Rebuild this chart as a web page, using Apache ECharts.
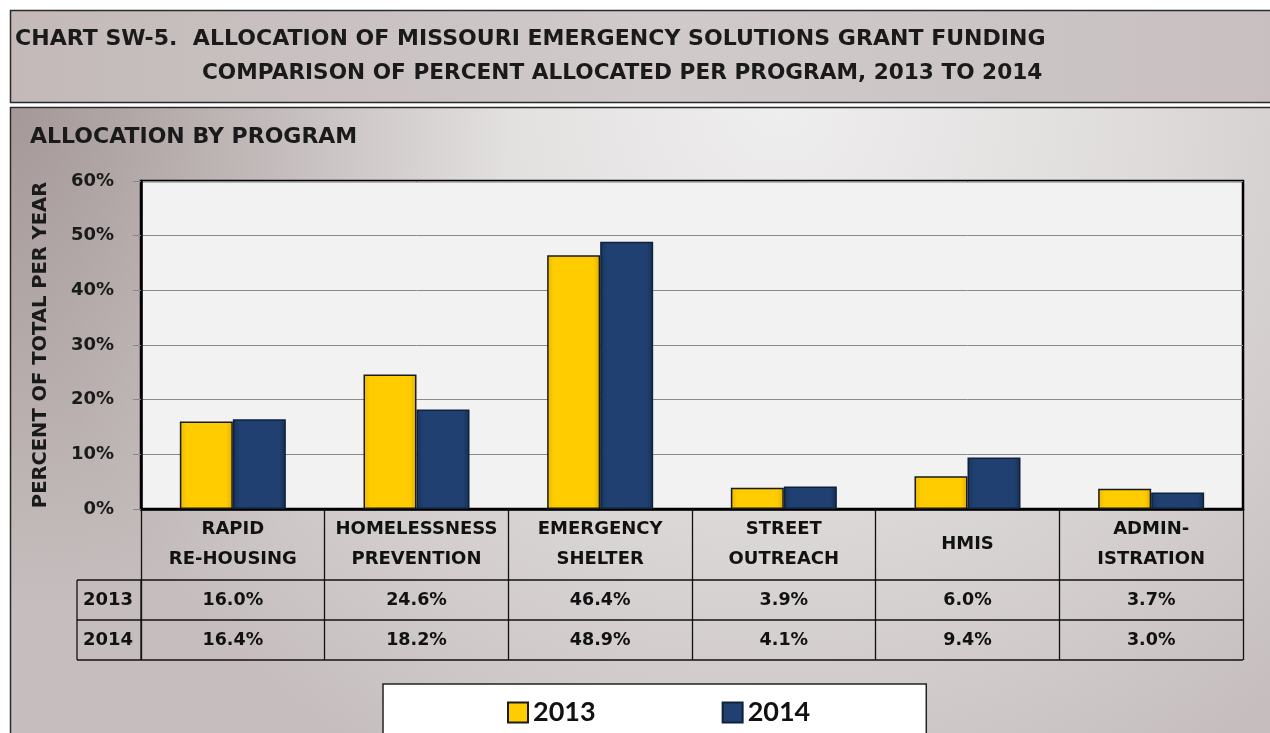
<!DOCTYPE html>
<html>
<head>
<meta charset="utf-8">
<script src="https://cdn.jsdelivr.net/npm/echarts@6/dist/echarts.min.js"></script>
<style>
  html, body { margin: 0; padding: 0; background: #ffffff; }
  #chart { width: 1270px; height: 733px; }
</style>
</head>
<body>
<div id="chart"></div>
<script>
// Program categories (header row of the data table)
const categories = ['RAPID\nRE-HOUSING', 'HOMELESSNESS\nPREVENTION', 'EMERGENCY\nSHELTER', 'STREET\nOUTREACH', 'HMIS', 'ADMIN-\nISTRATION'];
// Percent of total ESG funding allocated per program
const years = ['2013', '2014'];
const values2013 = [16.0, 24.6, 46.4, 3.9, 6.0, 3.7];
const values2014 = [16.4, 18.2, 48.9, 4.1, 9.4, 3.0];
// Value axis ticks
const yTicks = [0, 10, 20, 30, 40, 50, 60];

const FONT = '"DejaVu Sans", sans-serif';
const LEGEND_FONT = 'Lato, "Open Sans", sans-serif';
const GRID = { left: 141, top: 181, width: 1102, height: 328 };
const HEADER_H = 71, ROW_H = 40;

const chart = echarts.init(document.getElementById('chart'), null, { renderer: 'canvas' });

const yellowFill = new echarts.graphic.LinearGradient(0, 0, 1, 0, [
  { offset: 0, color: '#E8B900' }, { offset: 0.12, color: '#FFCC00' },
  { offset: 0.88, color: '#FFCC00' }, { offset: 1, color: '#DDAF00' }
]);
const blueFill = new echarts.graphic.LinearGradient(0, 0, 1, 0, [
  { offset: 0, color: '#18335A' }, { offset: 0.12, color: '#1F4070' },
  { offset: 0.88, color: '#1F4070' }, { offset: 1, color: '#162F52' }
]);

const background = [
  {
    type: 'rect', z: -100, silent: true,
    shape: { x: 10.5, y: 10.5, width: 1280, height: 92 },
    style: {
      fill: new echarts.graphic.LinearGradient(0, 0, 1, 0, [
        { offset: 0, color: '#c3b9b9' }, { offset: 0.5, color: '#d0caca' }, { offset: 1, color: '#c8c0c0' }
      ]),
      stroke: '#2a2a2a', lineWidth: 1.5
    }
  },
  {
    type: 'rect', z: -100, silent: true,
    shape: { x: 10.5, y: 107.5, width: 1280, height: 640 },
    style: {
      fill: new echarts.graphic.RadialGradient(0.6, 0.0, 1.2, [
        { offset: 0, color: '#efeeee' }, { offset: 0.5, color: '#dedada' }, { offset: 1, color: '#c6bebe' }
      ]),
      stroke: '#2a2a2a', lineWidth: 1.5
    }
  },
  {
    // darker shading toward the upper-left corner of the chart panel
    type: 'rect', z: -99, silent: true,
    shape: { x: 11, y: 108, width: 1260, height: 625 },
    style: {
      fill: new echarts.graphic.RadialGradient(0, 0, 0.8, [
        { offset: 0, color: 'rgba(115,95,95,0.4)' }, { offset: 1, color: 'rgba(115,95,95,0)' }
      ])
    }
  },
  {
    type: 'text', x: 15, y: 40, scaleX: 1.05,
    style: { text: 'CHART SW-5.  ALLOCATION OF MISSOURI EMERGENCY SOLUTIONS GRANT FUNDING', font: 'bold 21px ' + FONT, fill: '#1a1a1a', verticalAlign: 'middle' }
  },
  {
    type: 'text', x: 202, y: 74, scaleX: 1.03,
    style: { text: 'COMPARISON OF PERCENT ALLOCATED PER PROGRAM, 2013 TO 2014', font: 'bold 21px ' + FONT, fill: '#1a1a1a', verticalAlign: 'middle' }
  },
  {
    type: 'text', x: 30, y: 137,
    style: { text: 'ALLOCATION BY PROGRAM', font: 'bold 22px ' + FONT, fill: '#1a1a1a', verticalAlign: 'middle' }
  }
];

const option = {
  animation: false,
  grid: {
    left: GRID.left, top: GRID.top, width: GRID.width, height: GRID.height,
    show: true, backgroundColor: '#f2f2f2', borderColor: '#000', borderWidth: 2.5
  },
  legend: {
    data: years,
    icon: 'rect',
    left: 383, top: 684,
    itemWidth: 20, itemHeight: 20, itemGap: 126,
    padding: [15, 116, 40, 124],
    backgroundColor: '#ffffff', borderColor: '#222', borderWidth: 1.5,
    textStyle: { fontWeight: 'bold', fontSize: 27, fontFamily: LEGEND_FONT, color: '#111' }
  },
  xAxis: {
    type: 'category',
    data: categories,
    axisLine: { show: true, lineStyle: { color: '#000', width: 2.5 } },
    axisTick: { show: true, length: HEADER_H + 2 * ROW_H, interval: 0, lineStyle: { color: '#111', width: 1.3 } },
    axisLabel: {
      interval: 0, margin: HEADER_H / 2, verticalAlign: 'middle', lineHeight: 30,
      fontFamily: FONT, fontWeight: 'bold', fontSize: 18, color: '#111'
    }
  },
  yAxis: {
    type: 'value',
    min: yTicks[0], max: yTicks[yTicks.length - 1], interval: 10,
    name: 'PERCENT OF TOTAL PER YEAR',
    nameLocation: 'middle', nameRotate: 90, nameGap: 90,
    nameTextStyle: { fontFamily: FONT, fontWeight: 'bold', fontSize: 19.5, color: '#1a1a1a' },
    axisLine: { show: true, lineStyle: { color: '#000', width: 2.5 } },
    axisTick: { show: true, length: 8, lineStyle: { color: '#888' } },
    axisLabel: { margin: 27, formatter: '{value}%', fontFamily: FONT, fontWeight: 'bold', fontSize: 18, color: '#1a1a1a' },
    splitLine: { show: true, lineStyle: { color: '#8a8a8a', width: 1 } }
  },
  series: [
    {
      name: years[0], type: 'bar', data: values2013,
      barWidth: 53, barGap: '0%',
      itemStyle: { color: yellowFill, borderColor: '#1a1a1a', borderWidth: 1.5 }
    },
    {
      name: years[1], type: 'bar', data: values2014,
      barWidth: 53, barGap: '0%',
      itemStyle: { color: blueFill, borderColor: '#0f223d', borderWidth: 1.5 }
    }
  ],
  graphic: background
};

chart.setOption(option);

// Data table under the plot: rows of values aligned to the category axis
function buildTable() {
  const y0 = chart.convertToPixel({ yAxisIndex: 0 }, 0);
  const xLeft = GRID.left, xRight = GRID.left + GRID.width;
  const rowLeft = 77;
  const rows = [values2013, values2014];
  const els = [];
  const lineStyle = { stroke: '#111', lineWidth: 1.3 };
  const yLines = [y0 + HEADER_H, y0 + HEADER_H + ROW_H, y0 + HEADER_H + 2 * ROW_H];
  yLines.forEach(function (y) {
    els.push({ type: 'line', z: 5, silent: true, shape: { x1: rowLeft, y1: y, x2: xRight, y2: y }, style: lineStyle });
  });
  els.push({ type: 'line', z: 5, silent: true, shape: { x1: rowLeft, y1: yLines[0], x2: rowLeft, y2: yLines[2] }, style: lineStyle });
  els.push({ type: 'line', z: 5, silent: true, shape: { x1: xLeft, y1: yLines[0], x2: xLeft, y2: yLines[2] }, style: lineStyle });
  rows.forEach(function (vals, r) {
    const cy = yLines[0] + ROW_H * r + ROW_H / 2;
    els.push({
      type: 'text', z: 6, silent: true, x: (rowLeft + xLeft) / 2 - 1, y: cy,
      style: { text: years[r], font: 'bold 18px ' + FONT, fill: '#111', align: 'center', verticalAlign: 'middle' }
    });
    vals.forEach(function (v, i) {
      const cx = chart.convertToPixel({ xAxisIndex: 0 }, i);
      els.push({
        type: 'text', z: 6, silent: true, x: cx, y: cy,
        style: { text: v.toFixed(1) + '%', font: 'bold 17.5px ' + FONT, fill: '#111', align: 'center', verticalAlign: 'middle' }
      });
    });
  });
  chart.setOption({ graphic: background.concat(els) });
}
buildTable();
</script>
</body>
</html>
